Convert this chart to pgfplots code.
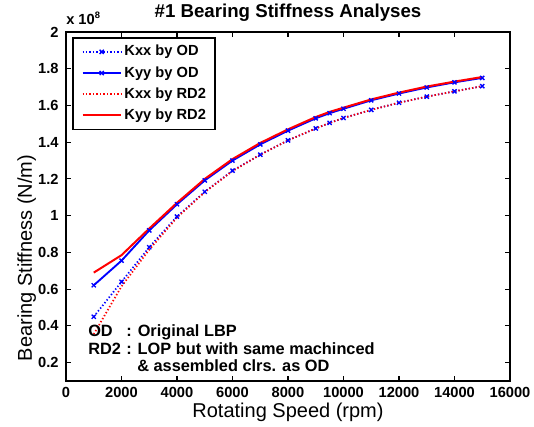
\documentclass[border=0pt]{standalone}
\usepackage{pgfplots}
\pgfplotsset{compat=1.18}
\usepackage{pgfplotstable}
\usepackage{fontspec}
\setmainfont{Liberation Sans}
\definecolor{mblue}{RGB}{0,0,255}
\definecolor{mred}{RGB}{255,0,0}

\pgfplotstableread{
rpm    kxxod  kyyod  kxxrd  kyyrd
1000   0.450  0.621  0.355  0.690
2000   0.640  0.755  0.615  0.785
3000   0.828  0.920  0.815  0.930
4000   0.995  1.062  0.990  1.070
5000   1.130  1.192  1.128  1.200
6000   1.245  1.300  1.243  1.308
7000   1.332  1.388  1.332  1.396
8000   1.410  1.463  1.410  1.470
9000   1.475  1.530  1.475  1.537
9500   1.505  1.558  1.505  1.565
10000  1.532  1.582  1.532  1.588
11000  1.576  1.628  1.576  1.633
12000  1.615  1.665  1.615  1.670
13000  1.648  1.698  1.648  1.703
14000  1.677  1.726  1.677  1.730
15000  1.705  1.750  1.705  1.755
}\stiff

\begin{document}
\begin{tikzpicture}
\useasboundingbox (-49.5pt,-34.5pt) rectangle (351pt,285.75pt);
\begin{axis}[
  at={(0,0)}, anchor=south west,
  scale only axis, width=333pt, height=261.75pt,
  xmin=0, xmax=16000, ymin=0.1, ymax=2,
  xtick={0,2000,4000,6000,8000,10000,12000,14000,16000},
  xticklabels={0,2000,4000,6000,8000,10000,12000,14000,16000},
  ytick={0.2,0.4,0.6,0.8,1,1.2,1.4,1.6,1.8,2},
  yticklabels={0.2,0.4,0.6,0.8,1,1.2,1.4,1.6,1.8,2},
  scaled x ticks=false, scaled y ticks=false,
  tick align=inside, tick pos=both,
  major tick length=3.5pt,
  axis line style={line width=1.3pt},
  every tick/.style={black, line width=0.8pt},
  tick label style={font=\fontsize{11}{13}\selectfont\bfseries},
  xticklabel style={yshift=-1pt},
  yticklabel style={xshift=-2pt},
  legend style={at={(0.0135,0.9857)}, anchor=north west, draw=black, line width=1.3pt,
    font=\fontsize{11}{13}\selectfont\bfseries, inner xsep=2pt, inner ysep=4pt,
    row sep=2.9pt,
    nodes={inner xsep=2pt, inner ysep=1pt, text height=8.5pt, text depth=2.5pt}},
  legend cell align=left,
  legend image code/.code={\path (0pt,0pt); \draw[mark repeat=2,mark phase=2,#1] plot coordinates {(4.5pt,0pt) (18.9pt,0pt) (33.2pt,0pt)};},
]
\addplot[mblue, line width=1.3pt, dash pattern=on 1pt off 1.6pt, mark=x, mark size=2.2pt, mark options={solid, line width=1pt}] table[x=rpm,y=kxxod]{\stiff};
\addlegendentry{\makebox[64pt][l]{Kxx by OD}}
\addplot[mblue, line width=1.4pt, mark=x, mark size=2.2pt, mark options={solid, line width=1pt}] table[x=rpm,y=kyyod]{\stiff};
\addlegendentry{\makebox[64pt][l]{Kyy by OD}}
\addplot[mred, line width=1.3pt, dash pattern=on 1pt off 1.6pt] table[x=rpm,y=kxxrd]{\stiff};
\addlegendentry{\makebox[64pt][l]{Kxx by RD2}}
\addplot[mred, line width=1.5pt] table[x=rpm,y=kyyrd]{\stiff};
\addlegendentry{\makebox[64pt][l]{Kyy by RD2}}
\end{axis}
% title
\node[anchor=base, font=\fontsize{14}{16}\selectfont\bfseries] at (166.5pt,272.25pt) {\#1 Bearing Stiffness Analyses};
% x 10^8
\node[anchor=base west, inner sep=0pt, font=\fontsize{11}{13}\selectfont\bfseries] at (0pt,267pt) {x 10\raisebox{0.45em}{\fontsize{7}{8}\selectfont 8}};
% axis labels
\node[anchor=base, inner sep=0pt, font=\fontsize{15}{17}\selectfont] at (166.5pt,-27.75pt) {Rotating Speed (rpm)};
\node[anchor=base, inner sep=0pt, rotate=90, font=\fontsize{15}{17}\selectfont] at (-25.5pt,92.25pt) {Bearing Stiffness (N/m)};
% annotation
\node[anchor=base west, inner sep=0pt, font=\fontsize{12.25}{13.1}\selectfont\bfseries] at (16.5pt,33.2pt)
 {\begin{tabular}[t]{@{}l@{\hspace{4pt}}l@{}}OD & : Original LBP\\ RD2 & : LOP but with same machinced\\ & \hspace*{8.25pt}\& assembled clrs. as OD\end{tabular}};
\end{tikzpicture}
\end{document}
